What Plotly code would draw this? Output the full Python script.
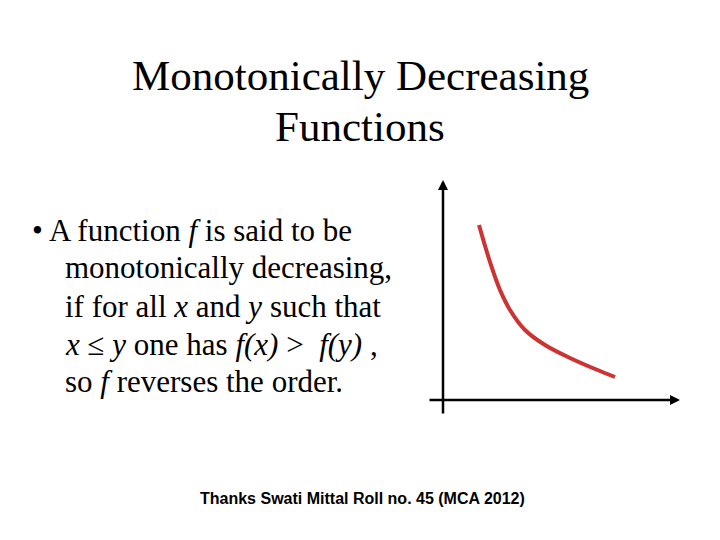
import plotly.graph_objects as go

curve_x = [0.72, 0.94, 1.14, 1.34, 1.64, 2.04, 2.54, 3.04, 3.44]
curve_y = [3.5, 2.76, 2.2, 1.8, 1.4, 1.1, 0.84, 0.62, 0.46]
title_lines = ["Monotonically Decreasing", "Functions"]
bullet_lines = ["• A function <i>f</i> is said to be",
                "monotonically decreasing,",
                "if for all <i>x</i> and <i>y</i> such that",
                "<i>x</i> ≤ <i>y</i> one has <i>f(x)</i> &gt;  <i>f(y)</i> ,",
                "so <i>f</i> reverses the order."]
footer = "Thanks Swati Mittal Roll no. 45 (MCA 2012)"

OFF = 8
def px(x): return (x - OFF) / 720
def py(y): return 1 - (y - OFF) / 540

fig = go.Figure(go.Scatter(x=curve_x, y=curve_y, mode="lines", line=dict(color="#cc3333", width=4, shape="spline")))
serif = "Liberation Serif, Times New Roman, serif"
ann = []
for i, t in enumerate(title_lines):
    ann.append(dict(xref="paper", yref="paper", x=px(360), y=py(75 + 52 * i), text=t, showarrow=False,
                    font=dict(family=serif, size=43, color="black"), xanchor="center", yanchor="middle"))
for i, t in enumerate(bullet_lines):
    ann.append(dict(xref="paper", yref="paper", x=px(30 if i == 0 else 63), y=py(230 + 38 * i), text=t,
                    showarrow=False, font=dict(family=serif, size=31, color="black"), xanchor="left", yanchor="middle"))
ann.append(dict(xref="paper", yref="paper", x=px(362), y=py(498), text=footer, showarrow=False,
                font=dict(family="Liberation Sans, Arial", size=16, color="black", weight="bold"),
                xanchor="center", yanchor="middle"))
ann.append(dict(x=0, y=4.4, ax=0, ay=-0.3, xref="x", yref="y", axref="x", ayref="y", text="", showarrow=True,
                arrowhead=2, arrowsize=0.8, arrowwidth=2.5, arrowcolor="black"))
ann.append(dict(x=4.74, y=0, ax=-0.3, ay=0, xref="x", yref="y", axref="x", ayref="y", text="", showarrow=True,
                arrowhead=2, arrowsize=0.8, arrowwidth=2.5, arrowcolor="black"))
fig.update_layout(width=720, height=540, margin=dict(l=0, r=0, t=0, b=0), plot_bgcolor="white", paper_bgcolor="white",
                  showlegend=False, annotations=ann,
                  xaxis=dict(range=[-8.7, 5.7], visible=False),
                  yaxis=dict(range=[-2.96, 7.84], visible=False))
fig.write_html("out.html")
